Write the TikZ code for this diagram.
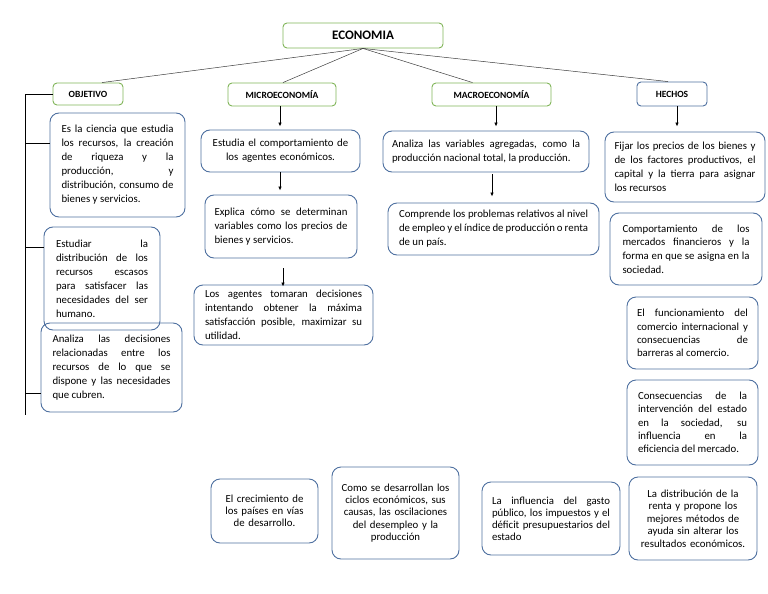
\documentclass[tikz,border=0pt]{standalone}
\usepackage{fontspec}
\setmainfont{Carlito}
\usetikzlibrary{arrows.meta}
\definecolor{gbord}{RGB}{128,180,88}
\definecolor{bbord}{RGB}{78,112,160}
\definecolor{lnk}{RGB}{60,60,60}
\begin{document}
\begin{tikzpicture}[x=1pt,y=-1pt,
  hdr/.style={draw=gbord, line width=0.9pt, rounded corners=4pt, inner sep=0pt,
    font=\bfseries\fontsize{9.5}{11}\selectfont, align=center},
  hdrb/.style={hdr, draw=bbord},
  box/.style={draw=bbord, line width=0.9pt, rounded corners=9pt, inner sep=0pt,
    align=justify, font=\fontsize{10.8}{14}\selectfont},
  cbox/.style={box, align=center},
  lnkline/.style={draw=lnk, line width=0.5pt},
  arr/.style={draw=black, line width=0.8pt, -{Latex[length=4pt,width=3.5pt]}}
]
\useasboundingbox (0,0) rectangle (768,594);
\hyphenpenalty=10000
% headers
\node[hdr, minimum width=160pt, minimum height=25pt, font=\bfseries\fontsize{13}{15}\selectfont] (econ) at (363,35.5) {ECONOMIA};
\node[hdr, minimum width=70pt, minimum height=22pt] (obj) at (88,94) {OBJETIVO};
\node[hdr, minimum width=108pt, minimum height=23pt] (micro) at (282,94.5) {MICROECONOMÍA};
\node[hdr, minimum width=119pt, minimum height=23pt] (macro) at (491.5,94.5) {MACROECONOMÍA};
\node[hdrb, minimum width=70pt, minimum height=24pt] (hech) at (672,94) {HECHOS};

% objetivo column
\node[box, minimum width=135pt, minimum height=104pt, text width=112pt] (o1) at (117.5,165)
 {Es la ciencia que estudia\linebreak los recursos, la creación\linebreak de riqueza y la\linebreak producción, y\linebreak distribución, consumo de\linebreak bienes y servicios.};
\node[box, minimum width=116pt, minimum height=103pt, text width=92pt] (o2) at (102,278.5)
 {Estudiar la\linebreak distribución de los\linebreak recursos escasos\linebreak para satisfacer las\linebreak necesidades del ser\linebreak humano.};
\node[box, minimum width=141pt, minimum height=89pt, text width=118pt] (o3) at (111.5,367.5)
 {Analiza las decisiones\linebreak relacionadas entre los\linebreak recursos de lo que se\linebreak dispone y las necesidades\linebreak que cubren.};

% micro column
\node[cbox, minimum width=159pt, minimum height=42pt, text width=145pt] (mA) at (280.5,151)
 {Estudia el comportamiento de\\ los agentes económicos.};
\node[box, minimum width=152pt, minimum height=63pt, text width=133pt] (mB) at (281,226.5)
 {Explica cómo se determinan\linebreak variables como los precios de\linebreak bienes y servicios.};
\node[box, minimum width=179pt, minimum height=60pt, text width=157pt] (mC) at (283.5,315)
 {Los agentes tomaran decisiones\linebreak intentando obtener la máxima\linebreak satisfacción posible, maximizar su\linebreak utilidad.};

% macro column
\node[box, minimum width=206pt, minimum height=41pt, text width=188pt] (M1) at (486,151.5)
 {Analiza las variables agregadas, como la\linebreak producción nacional total, la producción.};
\node[box, minimum width=211pt, minimum height=52pt, text width=189pt] (M2) at (493.5,229)
 {Comprende los problemas relativos al nivel\linebreak de empleo y el índice de producción o renta\linebreak de un país.};

% hechos column
\node[box, minimum width=160pt, minimum height=70pt, text width=141pt] (h1) at (685,167)
 {Fijar los precios de los bienes y\linebreak de los factores productivos, el\linebreak capital y la tierra para asignar\linebreak los recursos};
\node[box, minimum width=152pt, minimum height=72pt, text width=127pt, font=\fontsize{10.8}{13.7}\selectfont] (h2) at (686,249)
 {Comportamiento de los\linebreak mercados financieros y la\linebreak forma en que se asigna en la\linebreak sociedad.};
\node[box, minimum width=131pt, minimum height=72pt, text width=111pt, font=\fontsize{10.8}{13.3}\selectfont] (h3) at (692.5,333)
 {El funcionamiento del\linebreak comercio internacional y\linebreak consecuencias de\linebreak barreras al comercio.};
\node[box, minimum width=131pt, minimum height=85pt, text width=109pt, font=\fontsize{10.8}{13.3}\selectfont] (h4) at (692.5,422.5)
 {Consecuencias de la\linebreak intervención del estado\linebreak en la sociedad, su\linebreak influencia en la\linebreak eficiencia del mercado.};

% bottom row
\node[cbox, minimum width=107pt, minimum height=64pt, text width=90pt, font=\fontsize{10.8}{12}\selectfont] (b1) at (264.5,511)
 {El crecimiento de\\ los países en vías\\ de desarrollo.};
\node[cbox, minimum width=127pt, minimum height=92pt, text width=115pt, font=\fontsize{10.8}{12.3}\selectfont] (b2) at (395.5,513)
 {Como se desarrollan los\\ ciclos económicos, sus\\ causas, las oscilaciones\\ del desempleo y la\\ producción};
\node[box, minimum width=138pt, minimum height=73pt, text width=118pt, font=\fontsize{10.8}{12}\selectfont] (b3) at (551,518.5)
 {La influencia del gasto\linebreak público, los impuestos y el\linebreak déficit presupuestarios del\linebreak estado};
\node[cbox, minimum width=128pt, minimum height=83pt, text width=115pt, font=\fontsize{10.8}{12.5}\selectfont] (b4) at (693,518.5)
 {La distribución de la\\ renta y propone los\\ mejores métodos de\\ ayuda sin alterar los\\ resultados económicos.};

% connectors from ECONOMIA
\draw[lnkline] (econ.south) -- ([xshift=14pt]obj.north);
\draw[lnkline] (econ.south) -- ([xshift=1pt]micro.north);
\draw[lnkline] (econ.south) -- ([xshift=-19pt]macro.north);
\draw[lnkline] (econ.south) -- ([xshift=-4pt]hech.north);

% objetivo bracket
\coordinate (ltop) at (25,94);
\coordinate (lbot) at (25,415);
\coordinate (br1) at (25,143);
\coordinate (br2) at (25,247);
\coordinate (br3) at (25,393);
\draw[black, line width=0.8pt] (obj.west) -- (ltop) -- (lbot);
\draw[black, line width=0.6pt] (br1) -- (br1 -| o1.west);
\draw[black, line width=0.6pt] (br2) -- (br2 -| o2.west);
\draw[black, line width=0.6pt] (br3) -- (br3 -| o3.west);

% arrows
\draw[arr, shorten >=3pt] ([xshift=-2pt]micro.south) -- ([xshift=-2pt]micro.south |- mA.north);
\draw[arr, shorten >=4pt] ([xshift=-2pt]micro.south |- mA.south) -- ([xshift=-2pt]micro.south |- mB.north);
\draw[arr, shorten <=10pt, shorten >=-2pt] ([xshift=1pt]micro.south |- mB.south) -- ([xshift=1pt]micro.south |- mC.north);
\draw[arr, shorten >=4pt] ([xshift=4.5pt]macro.south) -- ([xshift=4.5pt]macro.south |- M1.north);
\draw[arr, shorten <=2pt, shorten >=6pt] ([xshift=0.5pt]macro.south |- M1.south) -- ([xshift=0.5pt]macro.south |- M2.north);
\draw[arr, shorten >=5pt] ([xshift=5pt]hech.south) -- ([xshift=5pt]hech.south |- h1.north);
\end{tikzpicture}
\end{document}
